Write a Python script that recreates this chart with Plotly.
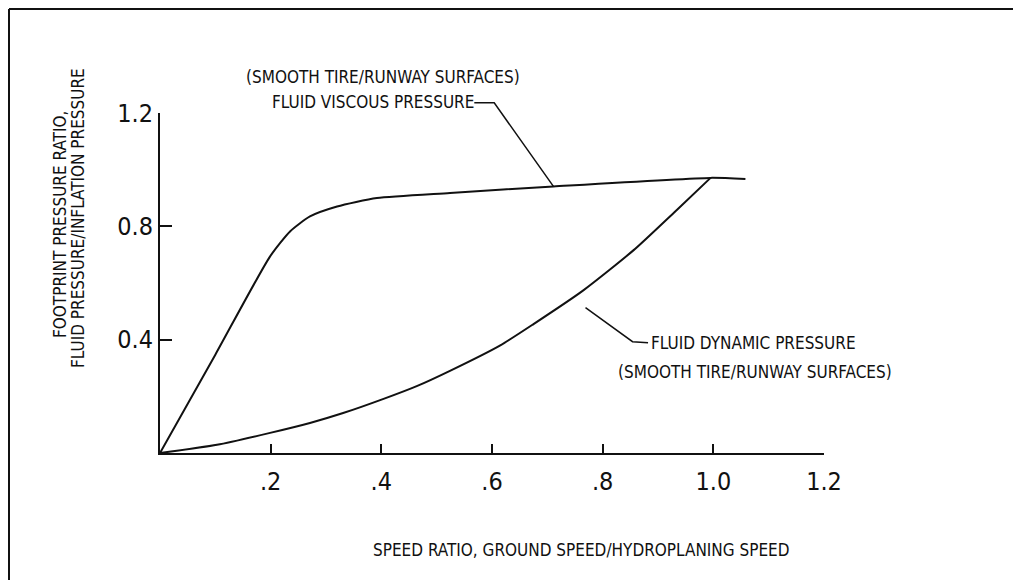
import plotly.graph_objects as go

# ---- data ----
viscous_x = [0.0, 0.10, 0.199, 0.235, 0.271, 0.320, 0.392, 0.524, 0.711, 0.995, 1.058]
viscous_y = [0.0, 0.347, 0.694, 0.782, 0.835, 0.870, 0.900, 0.918, 0.941, 0.971, 0.967]

dynamic_x = [0.0, 0.103, 0.199, 0.271, 0.331, 0.404, 0.464, 0.524, 0.615, 0.675, 0.765, 0.856, 0.934, 0.995]
dynamic_y = [0.0, 0.029, 0.071, 0.106, 0.141, 0.191, 0.236, 0.290, 0.380, 0.455, 0.574, 0.716, 0.858, 0.971]

x_tickvals = [0.2, 0.4, 0.6, 0.8, 1.0, 1.2]
x_ticktext = [".2", ".4", ".6", ".8", "1.0", "1.2"]
y_tickvals = [0.4, 0.8, 1.2]
y_ticktext = ["0.4", "0.8", "1.2"]

x_title = "SPEED RATIO, GROUND SPEED/HYDROPLANING SPEED"
y_title_1 = "FOOTPRINT PRESSURE RATIO,"
y_title_2 = "FLUID PRESSURE/INFLATION PRESSURE"
note_smooth = "(SMOOTH TIRE/RUNWAY SURFACES)"
label_viscous = "FLUID VISCOUS PRESSURE"
label_dynamic = "FLUID DYNAMIC PRESSURE"

# leader lines (data coordinates)
viscous_leader_x = [0.568, 0.604, 0.711]
viscous_leader_y = [1.236, 1.236, 0.941]
dynamic_leader_x = [0.769, 0.854, 0.882]
dynamic_leader_y = [0.513, 0.393, 0.389]

# ---- layout geometry (page has an 8px body margin) ----
OFF = 8
W, H = 1013, 572
L, R, T, B = 152, 197, 105, 127
XR = [0, 1.2]
YR = [0, 1.2]
FONT = "Liberation Sans Narrow, DejaVu Sans Condensed, Roboto Condensed, Arial Narrow, sans-serif"
INK = "#111111"


def px2paper(px, py):
    """screen pixel -> paper coordinates"""
    fx, fy = px - OFF, py - OFF
    return (fx - L) / (W - L - R), (H - B - fy) / (H - T - B)


def d2paper(x, y):
    return (x - XR[0]) / (XR[1] - XR[0]), (y - YR[0]) / (YR[1] - YR[0])


fig = go.Figure()
fig.add_trace(go.Scatter(x=viscous_x, y=viscous_y, mode="lines",
                         line=dict(color=INK, width=2, shape="spline", smoothing=0.6),
                         hoverinfo="skip"))
fig.add_trace(go.Scatter(x=dynamic_x, y=dynamic_y, mode="lines",
                         line=dict(color=INK, width=2, shape="spline", smoothing=0.6),
                         hoverinfo="skip"))

shapes = []


def polyline(xs, ys, width=1.5):
    pts = [d2paper(x, y) for x, y in zip(xs, ys)]
    path = "M " + " L ".join(f"{a:.5f},{b:.5f}" for a, b in pts)
    shapes.append(dict(type="path", xref="paper", yref="paper", path=path,
                       line=dict(color=INK, width=width)))


polyline(viscous_leader_x, viscous_leader_y)
polyline(dynamic_leader_x, dynamic_leader_y)

# page frame (top and left border of the scan)
x0, y0 = px2paper(9, 9)
x1, _ = px2paper(1021, 9)
_, y1 = px2paper(9, 580)
shapes.append(dict(type="line", xref="paper", yref="paper", x0=x0, y0=y0, x1=x1, y1=y0,
                   line=dict(color=INK, width=2)))
shapes.append(dict(type="line", xref="paper", yref="paper", x0=x0, y0=y0, x1=x0, y1=y1,
                   line=dict(color=INK, width=2)))

annotations = []


def text_at(px, py, txt, size=17, angle=0):
    ax, ay = px2paper(px, py)
    annotations.append(dict(x=ax, y=ay, xref="paper", yref="paper", text=txt,
                            showarrow=False, textangle=angle,
                            font=dict(family=FONT, size=size, color=INK),
                            xanchor="center", yanchor="middle"))


text_at(383, 77, note_smooth)
text_at(373, 102, label_viscous)
text_at(753, 343, label_dynamic)
text_at(755, 372, note_smooth)
text_at(581, 550, x_title)
text_at(60, 224, y_title_1, angle=-90)
text_at(78, 218, y_title_2, angle=-90)

fig.update_layout(
    width=W, height=H,
    margin=dict(l=L, r=R, t=T, b=B),
    paper_bgcolor="white", plot_bgcolor="white",
    showlegend=False,
    shapes=shapes,
    annotations=annotations,
    font=dict(family=FONT, color=INK),
)
fig.update_xaxes(range=XR, showgrid=False, zeroline=False, showline=True,
                 linecolor=INK, linewidth=2, ticks="inside", ticklen=9, tickwidth=1.5,
                 tickcolor=INK, tickvals=x_tickvals, ticktext=x_ticktext,
                 tickfont=dict(family=FONT, size=25, color=INK), ticklabelstandoff=5)
fig.update_yaxes(range=YR, showgrid=False, zeroline=False, showline=True,
                 linecolor=INK, linewidth=2, ticks="inside", ticklen=12, tickwidth=1.5,
                 tickcolor=INK, tickvals=y_tickvals, ticktext=y_ticktext,
                 tickfont=dict(family=FONT, size=25, color=INK), ticklabelstandoff=0)

fig.write_html("out.html")
